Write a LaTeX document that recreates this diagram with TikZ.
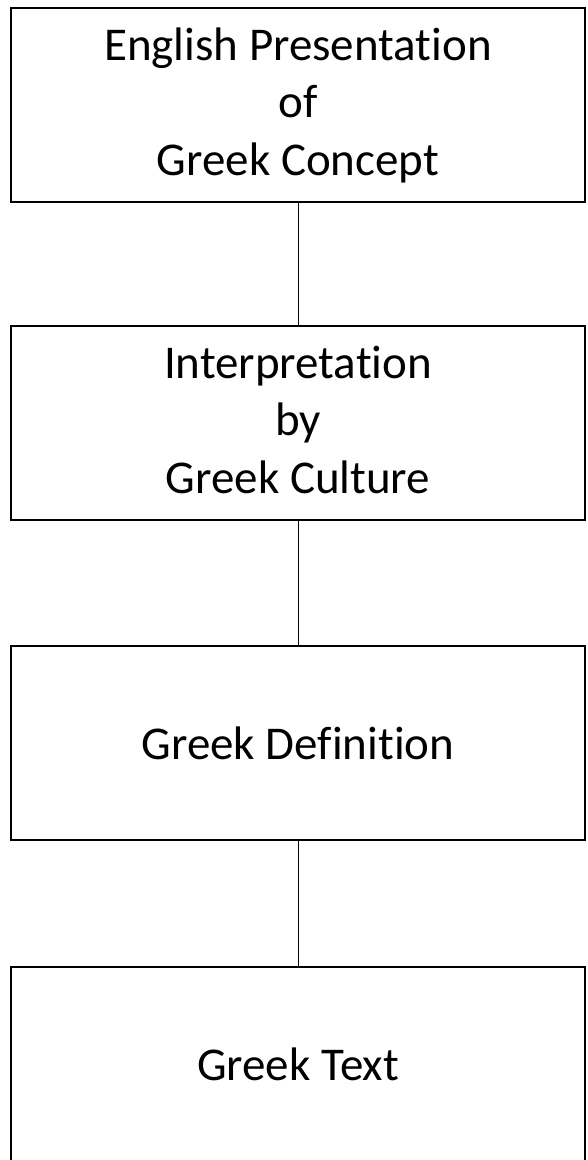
\documentclass[tikz,border=0pt]{standalone}
\usepackage{fontspec}
\setmainfont{Carlito}[RawFeature={-liga;-clig;-calt;-dlig;-rlig}]
\begin{document}
\begin{tikzpicture}[x=1pt,y=1pt,
  stagebox/.style={draw=black, line width=2pt, minimum width=574pt, minimum height=194pt, inner sep=0pt,
    align=center, font=\fontsize{47}{57.5}\selectfont},
  link/.style={draw=black, line width=1pt}]
\useasboundingbox (0,0) rectangle (587,1160);
\node[stagebox] (b1) at (298,1055) {English Presentation\\of\\Greek Concept\vphantom{y}};
\node[stagebox] (b2) at (298,736.5) {Interpretation\\by\\Greek Culture\vphantom{y}};
\node[stagebox] (b3) at (298,417) {Greek Definition};
\node[stagebox] (b4) at (298,96) {Greek Text};
\draw[link] (b1.south) -- (b2.north);
\draw[link] (b2.south) -- (b3.north);
\draw[link] (b3.south) -- (b4.north);
\end{tikzpicture}
\end{document}
